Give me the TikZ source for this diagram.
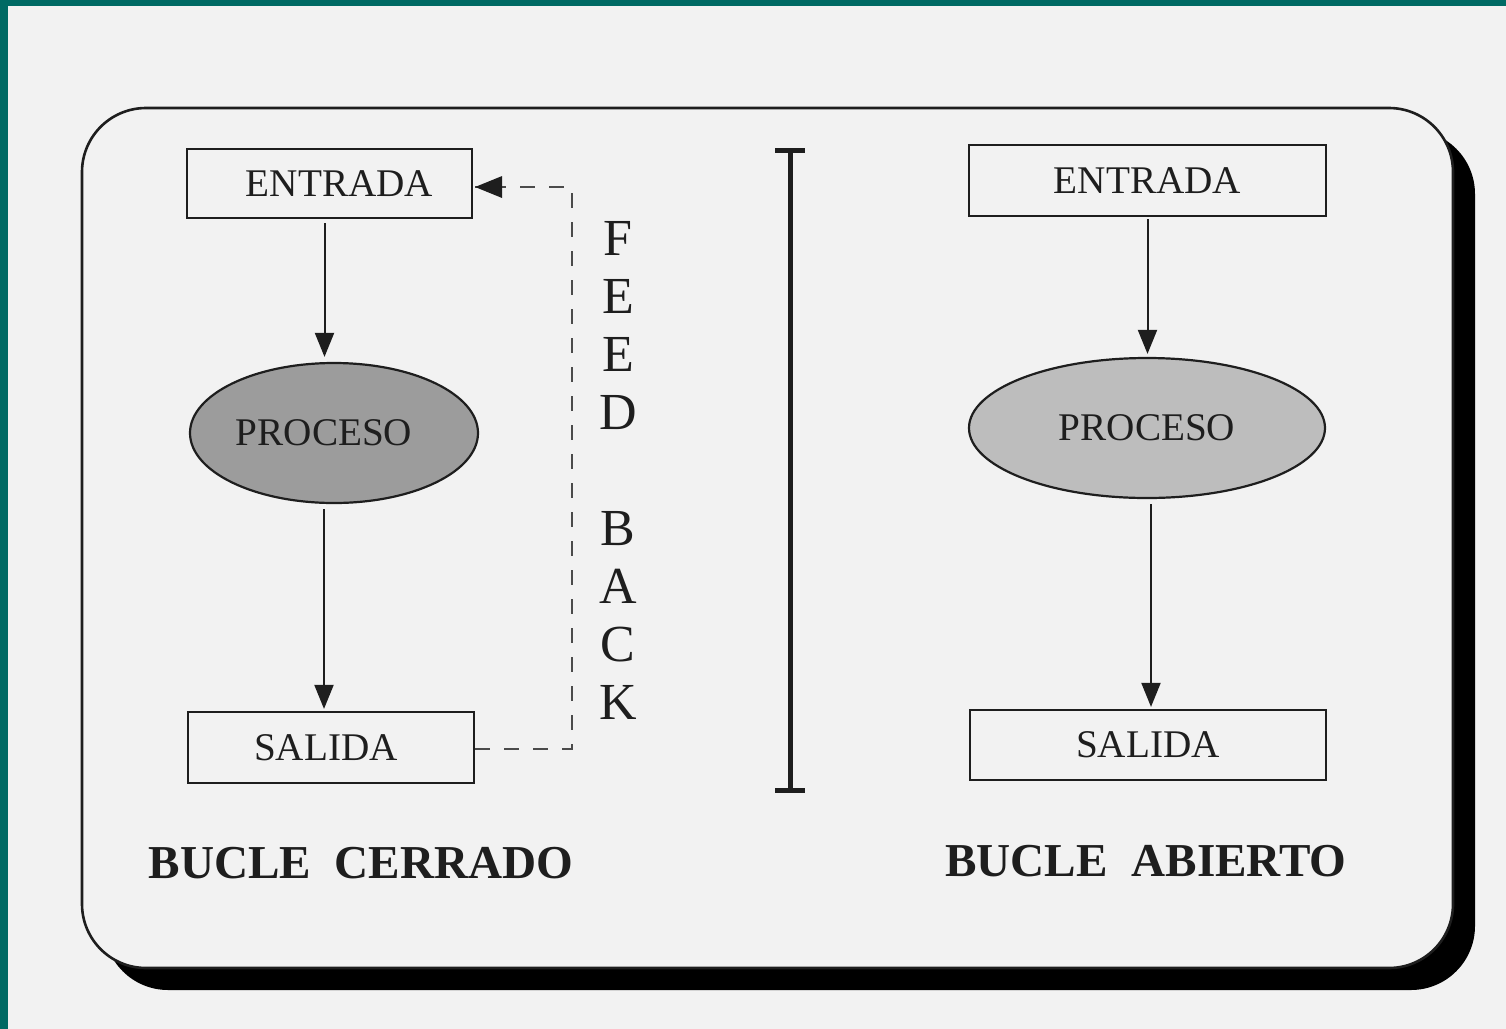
\documentclass[tikz,border=0pt]{standalone}
\usepackage{fontspec}
\setmainfont{Liberation Serif}
\usetikzlibrary{shapes.geometric,arrows.meta}
\definecolor{teal0}{HTML}{006A64}
\definecolor{paper}{HTML}{F2F2F2}
\definecolor{procL}{HTML}{9C9C9C}
\definecolor{procR}{HTML}{BDBDBD}
\definecolor{ink}{HTML}{1E1E1E}
\begin{document}
\begin{tikzpicture}[x=0.5pt,y=-0.5pt,
  box/.style={draw=ink,line width=1.1pt,rectangle,inner sep=0pt,text=ink,font=\fontsize{19.6}{22}\selectfont},
  proc/.style={ellipse,draw=ink,line width=1.1pt,inner sep=0pt,text=ink,font=\fontsize{19.6}{22}\selectfont},
  flow/.style={draw=ink,line width=1pt,-{Triangle[length=12pt,width=9.5pt]}},
  fb/.style={draw=ink!80,line width=0.8pt,dash pattern=on 7.5pt off 7pt},
  title/.style={text=ink,font=\fontsize{23.6}{28}\selectfont\bfseries},
  letters/.style={text=ink,align=center,font=\fontsize{26}{29}\selectfont}]
\useasboundingbox (0,0) rectangle (1506,1029);
\fill[paper] (0,0) rectangle (1506,1029);
\fill[teal0] (0,0) rectangle (8,1029);
\fill[teal0] (0,0) rectangle (1506,6);
% frame with shadow
\fill[black,rounded corners=32pt] (104,130) rectangle (1475,990);
\draw[ink,fill=paper,line width=1.3pt,rounded corners=32pt] (82,108) rectangle (1453,968);
% left column
\node[box,minimum width=142.5pt,minimum height=34.5pt] (entL) at (329.5,183.5) {\hspace*{10pt}ENTRADA};
\node[proc,fill=procL,minimum width=144pt,minimum height=70pt] (procL) at (334,433) {PROCESO\hspace*{10pt}};
\node[box,minimum width=143pt,minimum height=35.5pt] (salL) at (331,747.5) {SALIDA\hspace*{5pt}};
\draw[flow] ([xshift=-2.5pt,yshift=-2pt]entL.south) -- ([xshift=-2.5pt,yshift=2.5pt]entL.south |- procL.north);
\draw[flow] ([xshift=-5pt,yshift=-2.5pt]procL.south) -- ([xshift=-5pt,yshift=1pt]procL.south |- salL.north);
% feedback
\coordinate (fbB) at (572,749);
\coordinate (fbT) at (572,187);
\draw[fb] (salL.east |- fbB) -- (fbB) -- (fbT) -- ([xshift=1pt]entL.east |- fbT);
\fill[ink] ([xshift=1pt]entL.east |- fbT) -- ++(27,-11) -- ++(0,22) -- cycle;
\node[letters] (fbtxt) at (618,470) {F\\E\\E\\D\\[29pt]B\\A\\C\\K};
% divider
\coordinate (barT) at (790,150);
\coordinate (barB) at (790,790);
\draw[ink,line width=2.5pt] (barT) -- (barB);
\draw[ink,line width=2.5pt] ([xshift=-7.5pt]barT) -- ([xshift=7.5pt]barT);
\draw[ink,line width=2.5pt] ([xshift=-7.5pt]barB) -- ([xshift=7.5pt]barB);
% right column
\node[box,minimum width=178.5pt,minimum height=35.5pt] (entR) at (1147.5,180.5) {ENTRADA};
\node[proc,fill=procR,minimum width=178pt,minimum height=70pt] (procR) at (1147,428) {PROCESO};
\node[box,minimum width=178pt,minimum height=35pt] (salR) at (1148,745) {SALIDA};
\draw[flow] ([yshift=-1pt]entR.south) -- ([yshift=1.5pt]entR.south |- procR.north);
\draw[flow] ([xshift=2pt,yshift=-2.5pt]procR.south) -- ([xshift=2pt,yshift=1pt]procR.south |- salR.north);
% titles
\node[title] (tL) at (361,863) {BUCLE\ \ CERRADO};
\node[title] (tR) at (1146,861) {BUCLE\ \ ABIERTO};
\end{tikzpicture}
\end{document}
